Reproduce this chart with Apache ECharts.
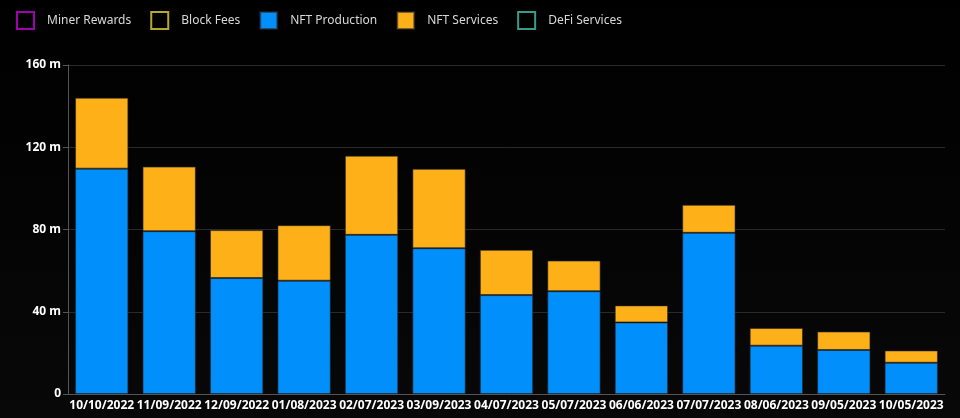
<!DOCTYPE html>
<html>
<head>
<meta charset="utf-8">
<script src="https://cdn.jsdelivr.net/npm/echarts@6/dist/echarts.min.js"></script>
<style>
html,body{margin:0;padding:0;background:#000;}
#chart{width:960px;height:418px;}
</style>
</head>
<body>
<div id="chart"></div>
<script>
var categories = ["10/10/2022","11/09/2022","12/09/2022","01/08/2023","02/07/2023","03/09/2023","04/07/2023","05/07/2023","06/06/2023","07/07/2023","08/06/2023","09/05/2023","10/05/2023"];
// values in millions
var nftProduction = [109.6, 79.2, 56.4, 55.1, 77.4, 70.9, 48.1, 50.0, 34.8, 78.4, 23.5, 21.4, 15.2];
var nftServices   = [34.5, 31.4, 23.3, 27.0, 38.5, 38.6, 22.0, 14.9, 8.3, 13.6, 8.6, 9.0, 6.0];
var minerRewards = [];
var blockFees = [];
var defiServices = [];
var yTicks = [0, 40, 80, 120, 160];

var chart = echarts.init(document.getElementById('chart'), null, {renderer:'canvas'});
var font = '"Noto Sans", sans-serif';
function emptySeries(name, data, border) {
  return {
    name: name, type: 'bar', stack: 'total', data: data,
    itemStyle: {color: 'transparent', borderColor: border, borderWidth: 1}
  };
}
chart.setOption({
  backgroundColor: {
    type: 'linear', x: 0, y: 0, x2: 0, y2: 1,
    colorStops: [{offset: 0, color: '#000'}, {offset: 1, color: '#080808'}]
  },
  animation: false,
  legend: {
    left: 11, top: 6,
    itemWidth: 17, itemHeight: 17, itemGap: 19,
    icon: 'rect',
    textStyle: {color: '#d8d8d8', fontSize: 12, fontFamily: font, padding: [0, 0, 0, 8]},
    data: ['Miner Rewards', 'Block Fees', 'NFT Production', 'NFT Services', 'DeFi Services']
  },
  grid: {left: 68, right: 15, top: 65, bottom: 24},
  xAxis: {
    type: 'category', data: categories,
    axisLine: {lineStyle: {color: '#555'}},
    axisTick: {alignWithLabel: true, length: 5, lineStyle: {color: '#555'}},
    axisLabel: {color: '#fff', fontWeight: 'bold', fontSize: 12, fontFamily: font, margin: 6, interval: 0}
  },
  yAxis: {
    type: 'value', min: yTicks[0], max: yTicks[yTicks.length - 1], interval: 40,
    axisLine: {show: true, lineStyle: {color: '#555'}},
    axisTick: {show: true, length: 5, lineStyle: {color: '#555'}},
    splitLine: {lineStyle: {color: '#2a2a2a'}},
    axisLabel: {
      color: '#fff', fontWeight: 'bold', fontSize: 12, fontFamily: font, margin: 7,
      formatter: function (v) { return v === 0 ? '0' : v + ' m'; }
    }
  },
  series: [
    emptySeries('Miner Rewards', minerRewards, '#a000b0'),
    emptySeries('Block Fees', blockFees, '#b8a82a'),
    {
      name: 'NFT Production', type: 'bar', stack: 'total', data: nftProduction,
      barCategoryGap: '21%',
      itemStyle: {color: '#008FFB', borderColor: 'rgba(40,40,40,0.6)', borderWidth: 1}
    },
    {
      name: 'NFT Services', type: 'bar', stack: 'total', data: nftServices,
      itemStyle: {color: '#FEB019', borderColor: 'rgba(40,40,40,0.6)', borderWidth: 1}
    },
    emptySeries('DeFi Services', defiServices, '#3a9a88')
  ]
});
</script>
</body>
</html>
